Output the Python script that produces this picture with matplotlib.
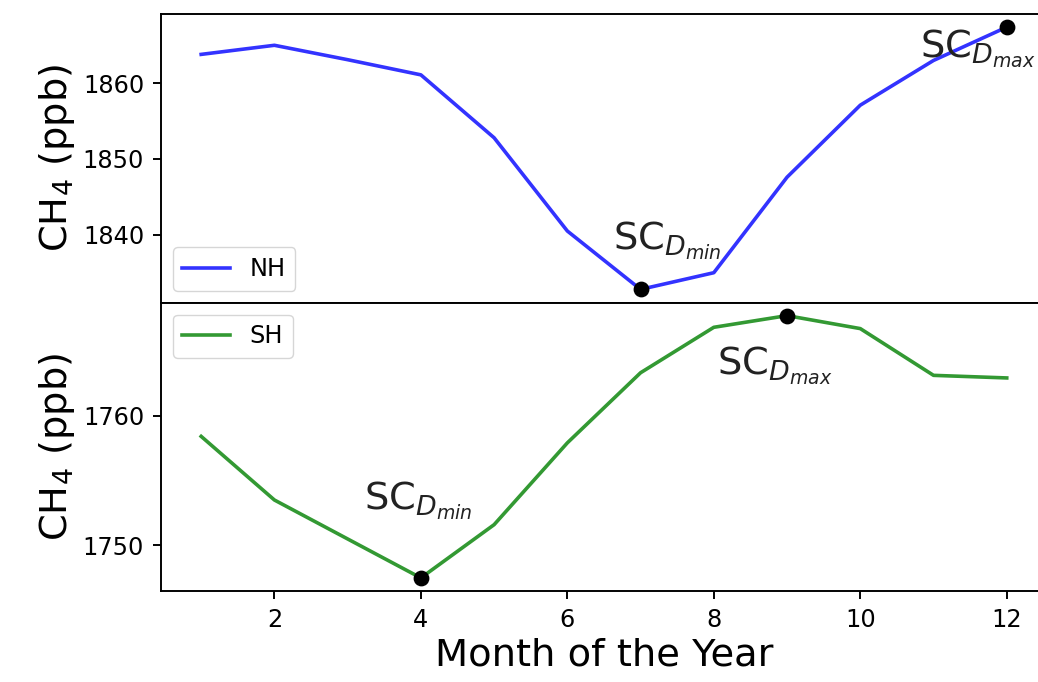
import matplotlib
matplotlib.use("Agg")
import matplotlib.pyplot as plt

months = [1, 2, 3, 4, 5, 6, 7, 8, 9, 10, 11, 12]
nh_ch4 = [1863.8, 1865.0, 1863.1, 1861.1, 1852.8, 1840.5, 1832.8, 1835.0, 1847.6, 1857.1, 1863.0, 1867.4]
sh_ch4 = [1758.4, 1753.5, 1750.5, 1747.5, 1751.6, 1757.9, 1763.3, 1766.8, 1767.7, 1766.7, 1763.1, 1762.9]

nh_min_month, nh_max_month = 7, 12
sh_min_month, sh_max_month = 4, 9

k = 1.728
plt.rcParams.update({
    "font.size": 10 * k,
    "axes.linewidth": 0.8 * k,
    "xtick.major.size": 3.5 * k,
    "ytick.major.size": 3.5 * k,
    "xtick.major.width": 0.8 * k,
    "ytick.major.width": 0.8 * k,
    "xtick.major.pad": 3.5 * k,
    "ytick.major.pad": 3.5 * k,
    "lines.linewidth": 1.5 * k,
    "legend.fontsize": 10 * k,
})

fig, (ax1, ax2) = plt.subplots(2, 1, sharex=True, figsize=(10.38, 6.82), dpi=100)
fig.subplots_adjust(left=0.155, right=1.0087, top=0.9795, bottom=0.1334, hspace=0)

ax1.plot(months, nh_ch4, color="blue", alpha=0.8, label="NH")
ax1.plot([nh_min_month, nh_max_month],
         [nh_ch4[months.index(nh_min_month)], nh_ch4[months.index(nh_max_month)]],
         "o", color="black", markersize=6 * k, zorder=3)
ax1.text(6.62, 1838.1, r"SC$_{D_{min}}$", fontsize=16 * k, color="#222222")
ax1.text(10.82, 1863.4, r"SC$_{D_{max}}$", fontsize=16 * k, color="#222222")
ax1.set_ylabel(r"CH$_4$ (ppb)", fontsize=16 * k)
ax1.legend(loc="lower left")

ax2.plot(months, sh_ch4, color="green", alpha=0.8, label="SH")
ax2.plot([sh_min_month, sh_max_month],
         [sh_ch4[months.index(sh_min_month)], sh_ch4[months.index(sh_max_month)]],
         "o", color="black", markersize=6 * k, zorder=3)
ax2.text(3.22, 1752.8, r"SC$_{D_{min}}$", fontsize=16 * k, color="#222222")
ax2.text(8.05, 1763.2, r"SC$_{D_{max}}$", fontsize=16 * k, color="#222222")
ax2.set_ylabel(r"CH$_4$ (ppb)", fontsize=16 * k)
ax2.set_xlabel("Month of the Year", fontsize=16 * k)
ax2.legend(loc="upper left")

ax1.set_yticks([1840, 1850, 1860])
ax2.set_yticks([1750, 1760])
ax2.set_xticks([2, 4, 6, 8, 10, 12])

fig.savefig("out.png", dpi=100)
